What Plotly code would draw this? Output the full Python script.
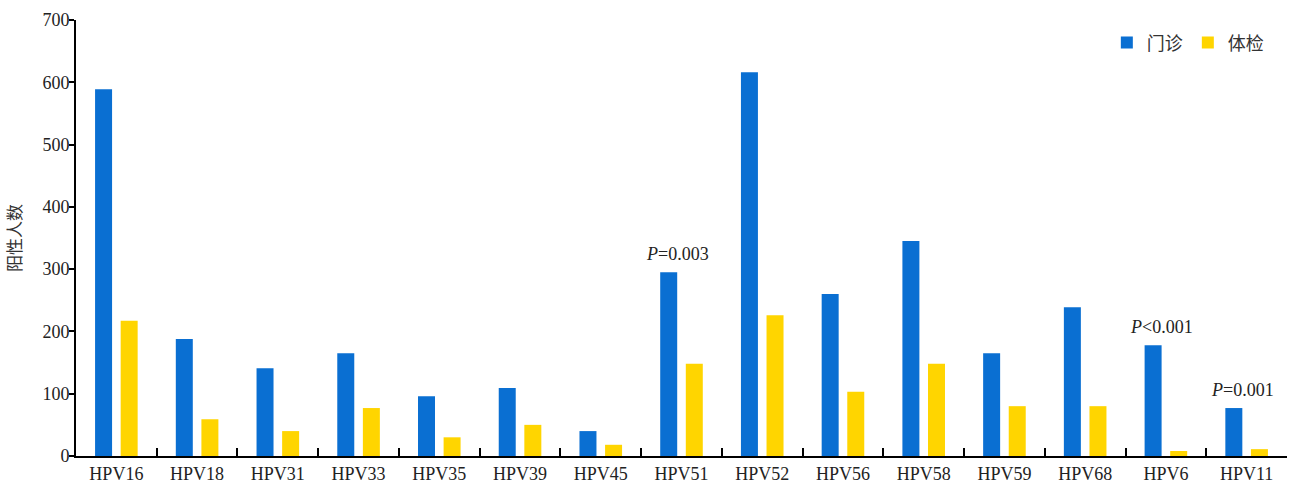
import plotly.graph_objects as go

categories = ["HPV16", "HPV18", "HPV31", "HPV33", "HPV35", "HPV39", "HPV45", "HPV51",
              "HPV52", "HPV56", "HPV58", "HPV59", "HPV68", "HPV6", "HPV11"]
clinic = [589, 188, 141, 165, 96, 109, 40, 295, 616, 260, 345, 165, 239, 178, 77]
checkup = [217, 59, 40, 77, 30, 50, 18, 148, 226, 103, 148, 80, 80, 8, 11]
series_names = ["门诊", "体检"]
p_labels = {"HPV51": "<i>P</i>=0.003", "HPV6": "<i>P</i><0.001", "HPV11": "<i>P</i>=0.001"}

serif = "Liberation Serif, Times New Roman, serif"
cjk = "Noto Sans CJK SC, sans-serif"

fig = go.Figure()
fig.add_trace(go.Bar(x=categories, y=clinic, name=series_names[0],
                     marker=dict(color="#0a6fd2", line=dict(width=0))))
fig.add_trace(go.Bar(x=categories, y=checkup, name=series_names[1],
                     marker=dict(color="#ffd500", line=dict(width=0))))

for cat, txt in p_labels.items():
    idx = categories.index(cat)
    fig.add_annotation(x=cat, y=clinic[idx], text=txt, showarrow=False,
                       yanchor="bottom", yshift=6, xshift=-4,
                       font=dict(family=serif, size=18, color="#222"))

fig.update_layout(
    width=1290, height=484,
    margin=dict(l=76, r=3, t=20, b=28),
    plot_bgcolor="white", paper_bgcolor="white",
    barmode="group", bargap=0.366, bargroupgap=0.336,
    showlegend=True,
    legend=dict(orientation="h", x=0.985, xanchor="right", y=0.99, yanchor="top",
                font=dict(family=cjk, size=18, color="#333"),
                itemwidth=30, traceorder="normal", bgcolor="rgba(0,0,0,0)"),
    xaxis=dict(showline=True, linecolor="black", linewidth=2, automargin=False,
               ticks="inside", tickson="boundaries", ticklen=8, tickwidth=2, tickcolor="black",
               tickfont=dict(family=serif, size=18, color="#222"),
               showgrid=False, zeroline=False),
    yaxis=dict(range=[0, 700], dtick=100, showline=True, linecolor="black", linewidth=2,
               automargin=False,
               ticks="outside", ticklen=5, tickwidth=2, tickcolor="black",
               tickfont=dict(family=serif, size=18, color="#222"), ticklabelstandoff=-4,
               showgrid=False, zeroline=False,
               title=dict(text="阳性人数", font=dict(family=cjk, size=17, color="#333"), standoff=16)),
)

fig.write_html("out.html", config={"displayModeBar": False},
               post_script="document.body.style.margin='0';document.body.style.overflow='hidden';")
